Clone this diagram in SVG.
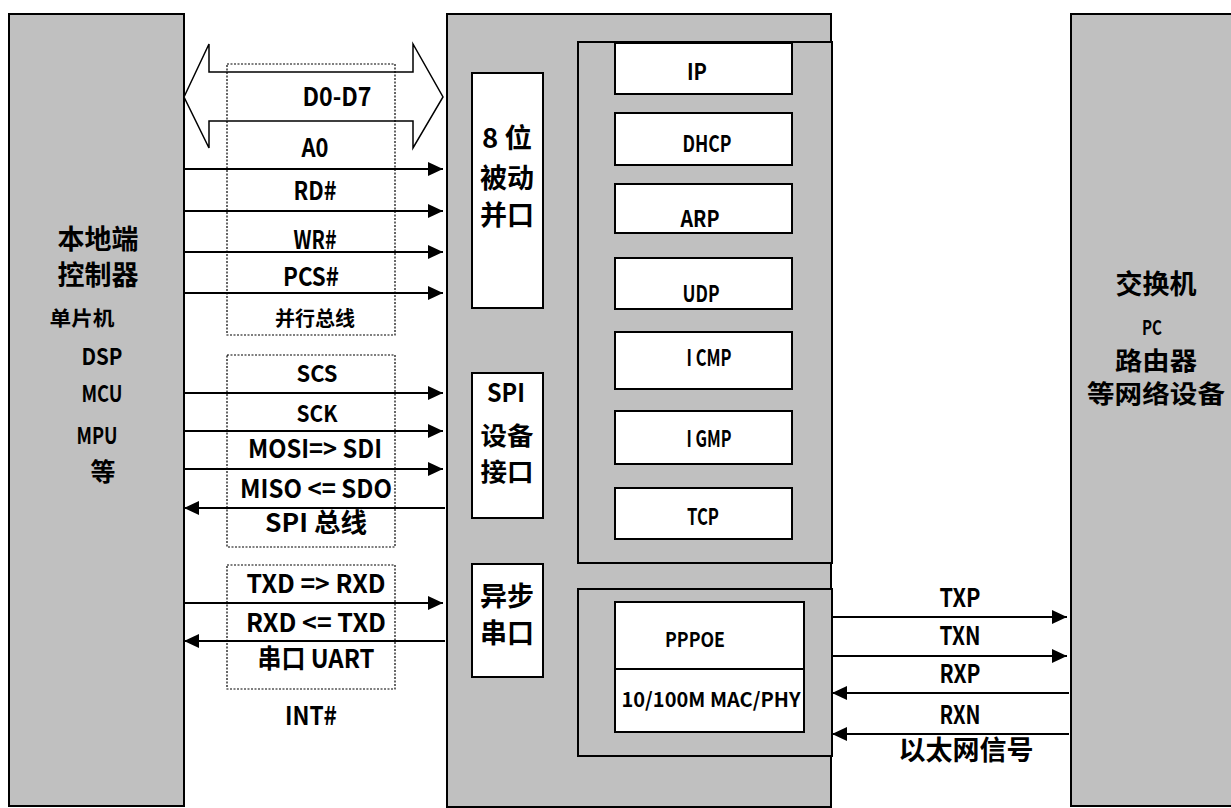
<svg xmlns="http://www.w3.org/2000/svg" width="1231" height="808" viewBox="0 0 1231 808">
<style>
.blk{fill:#c0c0c0;stroke:#000;stroke-width:2}
.wb{fill:#fff;stroke:#000;stroke-width:2}
.dot{fill:none;stroke:#000;stroke-width:1.2;stroke-dasharray:2,1.5}
.ln{stroke:#000;stroke-width:2;fill:none}
text{font-family:"Noto Sans CJK SC","Noto Sans",sans-serif;font-weight:bold;fill:#000;text-anchor:middle}
.l26{font-size:26px}
.l23{font-size:23px}
.l20{font-size:20px}
.c27{font-size:27px}
.c25{font-size:25px}
</style>
<defs>
<marker id="ah" markerUnits="userSpaceOnUse" markerWidth="16" markerHeight="14" refX="15" refY="7" orient="auto">
<path d="M0,0 L15,7 L0,14 Z" fill="#000"/>
</marker>
</defs>

<g id="local-controller">
<rect class="blk" x="9" y="14" width="175" height="792"/>
<text class="c27" x="98" y="249">本地端</text>
<text class="c27" x="98" y="285">控制器</text>
<text class="l20" x="82" y="326" textLength="65" lengthAdjust="spacingAndGlyphs">单片机</text>
<text class="l23" x="102" y="365" textLength="41" lengthAdjust="spacingAndGlyphs">DSP</text>
<text class="l23" x="102" y="402" textLength="41" lengthAdjust="spacingAndGlyphs">MCU</text>
<text class="l23" x="97" y="444" textLength="41" lengthAdjust="spacingAndGlyphs">MPU</text>
<text class="c25" x="103" y="481">等</text>
</g>

<g id="chip">
<rect class="blk" x="447" y="14" width="384" height="793"/>
</g>

<g id="parallel-port">
<rect class="wb" x="472" y="73" width="71" height="235"/>
<text class="c27" x="507" y="148" textLength="50" lengthAdjust="spacingAndGlyphs">8 位</text>
<text class="c27" x="507" y="188">被动</text>
<text class="c27" x="507" y="225">并口</text>
</g>

<g id="spi-port">
<rect class="wb" x="472" y="373" width="71" height="145"/>
<text class="l26" x="506" y="402" textLength="38" lengthAdjust="spacingAndGlyphs">SPI</text>
<text class="c25" x="507" y="445" textLength="53" lengthAdjust="spacingAndGlyphs">设备</text>
<text class="c25" x="507" y="481" textLength="53" lengthAdjust="spacingAndGlyphs">接口</text>
</g>

<g id="uart-port">
<rect class="wb" x="472" y="564" width="71" height="113"/>
<text class="c27" x="507" y="606">异步</text>
<text class="c27" x="507" y="643">串口</text>
</g>

<g id="protocol-stack">
<rect class="blk" x="578" y="42" width="254" height="521"/>
</g>
<g id="ip"><rect class="wb" x="615" y="43" width="177" height="51"/><text class="l23" x="697" y="80" textLength="20" lengthAdjust="spacingAndGlyphs">IP</text></g>
<g id="dhcp"><rect class="wb" x="615" y="113" width="177" height="52"/><text class="l23" x="707" y="152" textLength="49" lengthAdjust="spacingAndGlyphs">DHCP</text></g>
<g id="arp"><rect class="wb" x="615" y="184" width="177" height="49"/><text class="l23" x="700" y="227" textLength="39" lengthAdjust="spacingAndGlyphs">ARP</text></g>
<g id="udp"><rect class="wb" x="615" y="258" width="177" height="51"/><text class="l23" x="701" y="302" textLength="37" lengthAdjust="spacingAndGlyphs">UDP</text></g>
<g id="icmp"><rect class="wb" x="615" y="332" width="177" height="57"/><text class="l23" x="709" y="366" textLength="45" lengthAdjust="spacingAndGlyphs">I CMP</text></g>
<g id="igmp"><rect class="wb" x="615" y="411" width="177" height="53"/><text class="l23" x="709" y="447" textLength="45" lengthAdjust="spacingAndGlyphs">I GMP</text></g>
<g id="tcp"><rect class="wb" x="615" y="488" width="177" height="51"/><text class="l23" x="703" y="525" textLength="32" lengthAdjust="spacingAndGlyphs">TCP</text></g>

<g id="ethernet">
<rect class="blk" x="578" y="589" width="254" height="167"/>
<rect class="wb" x="615" y="602" width="189" height="130"/>
<line class="ln" x1="615" y1="669" x2="804" y2="669"/>
<text class="l20" x="695" y="647" textLength="60" lengthAdjust="spacingAndGlyphs">PPPOE</text>
<text class="l20" x="711" y="707" textLength="179" lengthAdjust="spacingAndGlyphs">10/100M MAC/PHY</text>
</g>

<g id="network-devices">
<rect class="blk" x="1071" y="14" width="170" height="792"/>
<text class="c27" x="1156" y="294">交换机</text>
<text class="l20" x="1152" y="335" textLength="20" lengthAdjust="spacingAndGlyphs">PC</text>
<text class="c25" x="1156" y="370" textLength="82" lengthAdjust="spacingAndGlyphs">路由器</text>
<text class="c25" x="1156" y="403" textLength="138" lengthAdjust="spacingAndGlyphs">等网络设备</text>
</g>

<g id="connectors">
<polygon points="184,97 209,44 209,72 413,72 413,44 443,97 413,148 413,121 209,121 209,148" fill="#fff" stroke="#000" stroke-width="1.5"/>
<line class="ln" x1="184" y1="169" x2="443" y2="169" marker-end="url(#ah)"/>
<line class="ln" x1="184" y1="211" x2="443" y2="211" marker-end="url(#ah)"/>
<line class="ln" x1="184" y1="252" x2="443" y2="252" marker-end="url(#ah)"/>
<line class="ln" x1="184" y1="293" x2="443" y2="293" marker-end="url(#ah)"/>
<line class="ln" x1="184" y1="393" x2="443" y2="393" marker-end="url(#ah)"/>
<line class="ln" x1="184" y1="431" x2="443" y2="431" marker-end="url(#ah)"/>
<line class="ln" x1="184" y1="469" x2="443" y2="469" marker-end="url(#ah)"/>
<line class="ln" x1="445" y1="508" x2="184" y2="508" marker-end="url(#ah)"/>
<line class="ln" x1="184" y1="603" x2="443" y2="603" marker-end="url(#ah)"/>
<line class="ln" x1="445" y1="641" x2="184" y2="641" marker-end="url(#ah)"/>
<line class="ln" x1="832" y1="617" x2="1067" y2="617" marker-end="url(#ah)"/>
<line class="ln" x1="832" y1="656" x2="1067" y2="656" marker-end="url(#ah)"/>
<line class="ln" x1="1069" y1="693" x2="832" y2="693" marker-end="url(#ah)"/>
<line class="ln" x1="1069" y1="734" x2="832" y2="734" marker-end="url(#ah)"/>
<rect class="dot" x="227" y="64" width="168" height="271"/>
<rect class="dot" x="227" y="355" width="168" height="192"/>
<rect class="dot" x="227" y="565" width="168" height="124"/>
</g>

<g id="labels">
<text class="l26" x="337" y="106" textLength="69" lengthAdjust="spacingAndGlyphs">D0-D7</text>
<text class="l26" x="315" y="157" textLength="27" lengthAdjust="spacingAndGlyphs">A0</text>
<text class="l26" x="315" y="200" textLength="43" lengthAdjust="spacingAndGlyphs">RD#</text>
<text class="l26" x="315" y="249" textLength="43" lengthAdjust="spacingAndGlyphs">WR#</text>
<text class="l26" x="311" y="286" textLength="56" lengthAdjust="spacingAndGlyphs">PCS#</text>
<text class="l20" x="315" y="326">并行总线</text>
<text class="l23" x="317" y="382" textLength="41" lengthAdjust="spacingAndGlyphs">SCS</text>
<text class="l23" x="317" y="422" textLength="41" lengthAdjust="spacingAndGlyphs">SCK</text>
<text class="l26" x="315" y="458" textLength="134" lengthAdjust="spacingAndGlyphs">MOSI=&gt; SDI</text>
<text class="l26" x="316" y="498" textLength="152" lengthAdjust="spacingAndGlyphs">MISO &lt;= SDO</text>
<text class="l26" x="316" y="532" textLength="102" lengthAdjust="spacingAndGlyphs">SPI 总线</text>
<text class="l26" x="316" y="593" textLength="139" lengthAdjust="spacingAndGlyphs">TXD =&gt; RXD</text>
<text class="l26" x="316" y="632" textLength="140" lengthAdjust="spacingAndGlyphs">RXD &lt;= TXD</text>
<text class="l26" x="316" y="668" textLength="117" lengthAdjust="spacingAndGlyphs">串口 UART</text>
<text class="l26" x="311" y="725" textLength="52" lengthAdjust="spacingAndGlyphs">INT#</text>
<text class="l26" x="960" y="607" textLength="41" lengthAdjust="spacingAndGlyphs">TXP</text>
<text class="l26" x="960" y="645" textLength="41" lengthAdjust="spacingAndGlyphs">TXN</text>
<text class="l26" x="960" y="683" textLength="41" lengthAdjust="spacingAndGlyphs">RXP</text>
<text class="l26" x="960" y="724" textLength="41" lengthAdjust="spacingAndGlyphs">RXN</text>
<text class="c27" x="966" y="760">以太网信号</text>
</g>
</svg>
